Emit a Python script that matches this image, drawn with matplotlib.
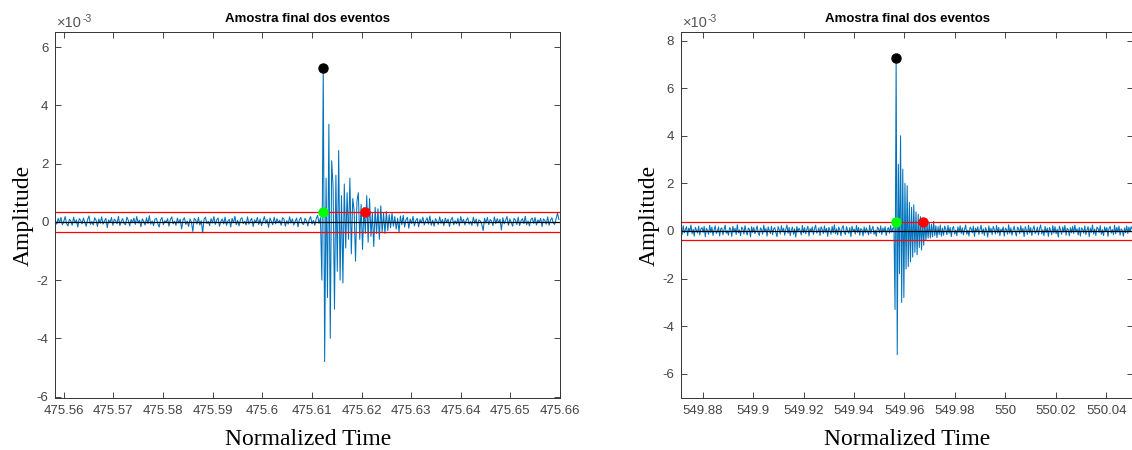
import numpy as np
import matplotlib
matplotlib.use("Agg")
import matplotlib.pyplot as plt
from matplotlib.ticker import FuncFormatter
from matplotlib.transforms import offset_copy

plt.rcParams['font.family'] = ['Liberation Sans', 'DejaVu Sans']
plt.rcParams['axes.unicode_minus'] = False

# amplitudes, in units of 1e-5
left_pre = [
    4, -8, 12, -3, 15, -10, 2, 18, -6, -14,
    9, 3, -12, 16, -4, 7, -18, 11, 5, -7,
    13, -2, -15, 8, 20, -9, 1, -11, 14, 6,
    -16, 10, -5, 17, -8, 3, 12, -20, 7, -3,
    15, -12, 9, 4, -7, 19, -13, 2, 11, -6,
    -10, 16, 5, -14, 8, -2, 13, -9, 18, -4,
    6, -17, 10, 1, -11, 14, -6, 21, -8, 3,
    -13, 9, 12, -5, -18, 7, 15, -10, 4, -2,
    11, -15, 8, 17, -7, 2, -12, 13, -4, 9,
    -24, 6, 14, -9, 3, -16, 10, -1, -33, 12,
    7, -8, 15, -11, 4, -38, 9, 16, -6, 2,
    -13, 11, -4, 18, -9, 6, 13, -15, 1, 10,
    -7, 16, -12, 3, 8, -18, 12, -3, 19, -10,
    5, -14, 9, 14, -6, 2, -11, 17, -8, 4,
    12, -16, 7, -2, 15, -9, 10, -13, 3, 18,
    -5, 8, -19, 13, 1, -10, 16, -7, 11, -3,
    6, -12, 14, 9, -15, 4, -8, 17, -4, 10,
    -11, 2, 13, -17, 7, 15, -6, -9, 12, 3,
    -14, 8, 18, -7, 5, -12, 11, 22, -5, 14]
left_event = [
    -200, 530, -480, 150, -260, 335, -400, 210, 120, -300,
    160, -170, 245, -200, 90, -210, 130, -90, 100, -60,
    150, -110, 80, 40, -135, 70, 100, -60, 60, -95,
    50, -40, 90, -70, 80, -50, 30, -85, 50, -40,
    45, -60, 55, -35, 30, -40, 35, -30]
left_post = [
    25, -20, 30, -15, 18, -25, 12, -35, 20, -10,
    22, -18, 8, 15, -22, 10, -6, 19, -14, 5,
    12, -17, 9, -4, 16, -11, 3, 14, -8, 20,
    -12, 6, -15, 11, 2, -9, 17, -5, 8, -13,
    13, -3, 10, -16, 7, 15, -10, 4, -7, 12,
    -14, 18, -2, 9, -11, 6, 14, -8, 1, -12,
    16, -5, 10, -15, 7, 3, -9, -30, 12, -4,
    15, -10, 8, 2, -13, 17, -6, 11, -3, 9,
    -28, 14, -7, 5, 18, -12, 10, -1, -15, 12,
    6, -9, 16, -13, 4, 11, -6, 19, -10, 3,
    -14, 8, 13, -5, 15, -11, 7, -2, 12, -16,
    10, 4, -8, 17, -12, 6, 14, -4, -9, 11,
    30, 8]

right_pre = [
    10, -15, 22, -8, 5, 18, -20, 12, -3, 25,
    -12, 7, -22, 15, 3, -9, 20, -17, 8, 14,
    -6, 19, -24, 11, 2, -14, 23, -7, 16, -19,
    5, 21, -11, -3, 17, -21, 9, 13, -16, 6,
    24, -10, 1, -18, 14, 8, -23, 19, -5, 11,
    -15, 26, -8, 4, -20, 16, 10, -13, 22, -2,
    -17, 12, 7, -25, 18, -6, 15, -12, 3, 21,
    -9, -19, 13, 6, -14, 24, -4, 10, -22, 17,
    2, -11, 20, -16, 9, 14, -7, -24, 18, 5,
    -13, 22, -3, 11, -18, 7, 25, -10, 15, -20,
    4, 16, -14, 9, -26, 19, -5, 12, 1, -17,
    23, -8, 14, -12, 6, 20, -21, 10, -4, 17,
    -15, 8, 24, -9, -2, 13, -19, 18, 5, -11,
    21, -6, 11, -23, 15, 3, -14, 19, -8, 26,
    -12, 9, -17, 16, 4, -20, 12, 22, -7, -15,
    18, 2, -10, 14, -24, 20, -3, 8, -13, 23,
    -6, 15, -18, 10, 5, -21, 17, -9, 13, -2,
    -16, 24, -11, 7, 19, -14, 3, -22, 16, 9,
    -8, 21, -15, 12, -4, 18, -19, 6, 14, -10,
    22, -5, 11, 15]
right_event = [
    -330, 730, -520, 280, -180, 400, -300, 260, -280, 200,
    -160, 190, -150, 120, -130, 100, -110, 110, -90, 80,
    -100, 70, -70, 60, -80, 50, -60, 40, -40, 30, -30]
right_post = [
    35, -30, 28, -25, 40, -20, 22, -28, 18, -15,
    25, -22, 12, -18, 20, 8, -16, 23, -10, 15,
    -24, 9, 19, -13, 4, -20, 17, -6, 22, -11,
    13, -17, 7, 25, -14, 3, -21, 16, 10, -8,
    20, -23, 12, -4, 18, -15, 6, 24, -12, 9,
    -19, 14, 2, -25, 21, -7, 11, -16, 19, 5,
    -13, 23, -9, 15, -20, 8, -3, 17, -22, 12,
    6, -14, 26, -10, 13, -18, 4, 20, -6, -21,
    16, 9, -12, 22, -5, 11, -24, 18, 3, -15,
    24, -8, 14, -19, 7, 21, -11, -2, 16, -17,
    10, 25, -13, 5, -20, 19, -7, 12, -23, 15,
    2, -16, 22, -9, 18, -12, 8, -26, 20, 4,
    -14, 17, -5, 23, -18, 11, 6, -21, 14, -8,
    19, -11, 24, -4, 9, -17, 15, -22, 13, 7,
    -10, 21, -15, 3, 18, -24, 12, -6, 25, -13,
    8, -19, 16, 10, -7, 22, -14, 5, -20, 17,
    -3, 14, -23, 11, 19, -9, 6, -16, 24, -12,
    15, -5, 20, -18, 9, 2, -22, 13, -8, 21,
    -11, 16, -4, 18, 7]

# sampling (first sample time, step)
left_t0, left_dt = 475.5583, 2.8267e-4
right_t0, right_dt = 549.8714, 4.374e-4

# thresholds and event markers (time, amplitude)
left_thr = 0.345e-3
right_thr = 0.38e-3
left_onset = (475.6122, 0.345e-3)
left_peak = (475.6123, 5.30e-3)
left_end = (475.6208, 0.345e-3)
right_onset = (549.9566, 0.38e-3)
right_peak = (549.9567, 7.28e-3)
right_end = (549.9673, 0.38e-3)

left_xlim = (475.5583, 475.66)
left_ylim = (-6.05e-3, 6.52e-3)
left_xticks = [475.56, 475.57, 475.58, 475.59, 475.6, 475.61, 475.62, 475.63, 475.64, 475.65, 475.66]
left_yticks = [-6e-3, -4e-3, -2e-3, 0, 2e-3, 4e-3, 6e-3]
right_xlim = (549.8714, 550.0507)
right_ylim = (-7.02e-3, 8.36e-3)
right_xticks = [549.88, 549.9, 549.92, 549.94, 549.96, 549.98, 550, 550.02, 550.04]
right_yticks = [-6e-3, -4e-3, -2e-3, 0, 2e-3, 4e-3, 6e-3, 8e-3]

fig = plt.figure(figsize=(11.32, 4.5), dpi=100)
ax1 = fig.add_axes([0.0489, 0.1156, 0.4458, 0.8133])
ax2 = fig.add_axes([0.6016, 0.1156, 0.3995, 0.8133])

def draw(ax, pre, ev, post, t0, dt, thr, onset, peak, end, xlim, ylim, xticks, yticks):
    amp = np.array(pre + ev + post) * 1e-5
    t = t0 + dt * np.arange(len(amp))
    ax.plot(t, amp, color='#0072BD', lw=0.75)
    ax.axhline(thr, color='red', lw=0.9)
    ax.axhline(-thr, color='red', lw=0.9)
    ax.axhline(0, color='black', lw=0.9)
    ax.plot(*peak, 'o', color='black', ms=6.5)
    ax.plot(*onset, 'o', color='#00FF00', ms=6.5)
    ax.plot(*end, 'o', color='red', ms=6.5)
    ax.set_xlim(xlim)
    ax.set_ylim(ylim)
    ax.set_xticks(xticks)
    ax.set_yticks(yticks)
    ax.xaxis.set_major_formatter(FuncFormatter(lambda v, p: '%g' % round(v, 4)))
    ax.yaxis.set_major_formatter(FuncFormatter(lambda v, p: '%g' % round(v * 1e3, 4)))
    ax.tick_params(direction='in', top=True, right=True, length=4, width=0.6, pad=5,
                   labelsize=9.5, colors='#262626', labelcolor='#444444')
    for s in ax.spines.values():
        s.set_color('#333333')
        s.set_linewidth(0.7)
    # MATLAB style exponent label
    ax.text(0.004, 1.006, '×10', transform=ax.transAxes, fontsize=10.5,
            color='#555555', ha='left', va='bottom')
    ax.text(0.004, 1.006, '-3', fontsize=7.5, color='#555555', ha='left', va='bottom',
            transform=offset_copy(ax.transAxes, fig=fig, x=25, y=6, units='dots'))
    ax.set_title('Amostra final dos eventos', fontsize=9.5, fontweight='bold', pad=7)
    ax.set_xlabel('Normalized Time', family='Liberation Serif', fontsize=17, labelpad=9)
    ax.set_ylabel('Amplitude', family='Liberation Serif', fontsize=17, labelpad=2)

draw(ax1, left_pre, left_event, left_post, left_t0, left_dt, left_thr,
     left_onset, left_peak, left_end, left_xlim, left_ylim, left_xticks, left_yticks)
draw(ax2, right_pre, right_event, right_post, right_t0, right_dt, right_thr,
     right_onset, right_peak, right_end, right_xlim, right_ylim, right_xticks, right_yticks)

fig.savefig('out.png', dpi=100)
